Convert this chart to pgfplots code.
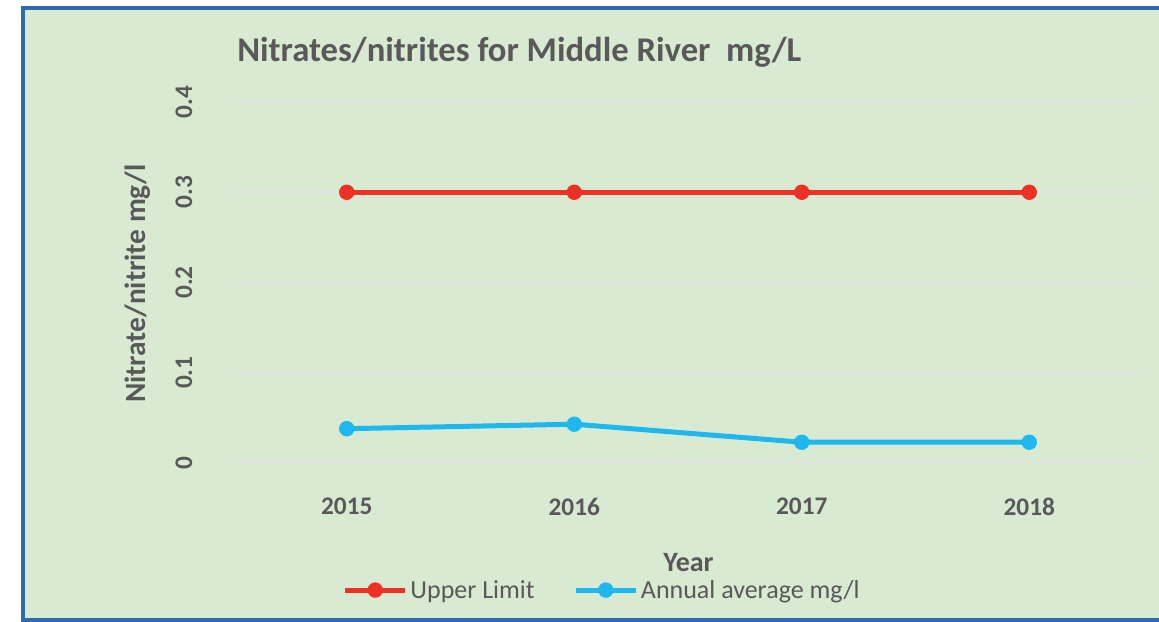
\documentclass[border=0pt]{standalone}
\usepackage{pgfplots}
\pgfplotsset{compat=1.18}
\usepackage{fontspec}
\setmainfont{Carlito}
\definecolor{bg}{HTML}{D9EAD3}
\definecolor{frame}{HTML}{2E6BB5}
\definecolor{txt}{HTML}{595959}
\definecolor{red1}{HTML}{EE3124}
\definecolor{blue1}{HTML}{1EB8EE}
\definecolor{grid1}{HTML}{E2E5DF}
\begin{document}
\begin{tikzpicture}
\useasboundingbox (0,0) rectangle (869.25pt,465.75pt);
\fill[white] (0,0) rectangle (869.25pt,465.75pt);
\fill[bg] (17.25pt,0.75pt) rectangle (869.25pt,459.75pt);
\draw[frame, line width=3pt] (870pt,459.75pt) -- (17.25pt,459.75pt) -- (17.25pt,0.75pt) -- (870pt,0.75pt);
\begin{axis}[
  at={(174.75pt,118.5pt)}, anchor=south west,
  scale only axis, width=682.5pt, height=270.75pt,
  xmin=-0.5, xmax=3.5, ymin=0, ymax=0.4,
  axis line style={draw=none},
  tick style={draw=none},
  xtick={0,1,2,3}, xticklabels={2015,2016,2017,2018},
  ytick={0,0.1,0.2,0.3,0.4}, yticklabels={0,0.1,0.2,0.3,0.4},
  ymajorgrids, grid style={grid1, line width=1.5pt},
  ticklabel style={text=txt, font=\bfseries\fontsize{19}{23}\selectfont},
  yticklabel style={rotate=90, anchor=south},
  yticklabel shift=27pt,
  xticklabel shift=23pt,
  clip=false,
  legend style={at={(axis description cs:0.406,-0.352)}, anchor=center, draw=none, fill=none,
    text=txt, font=\fontsize{19.5}{23}\selectfont,
    /tikz/every even column/.append style={column sep=27pt}},
  legend columns=2,
  legend image code/.code={\draw[mark repeat=2,mark phase=2] plot coordinates {(0pt,0pt)(22.5pt,0pt)(45pt,0pt)};},
]
\addplot[red1, line width=3.75pt, mark=*, mark size=5.5pt, mark options={line width=0.5pt}] coordinates {(0,0.3)(1,0.3)(2,0.3)(3,0.3)};
\addlegendentry{Upper Limit}
\addplot[blue1, line width=3.75pt, mark=*, mark size=5.5pt, mark options={line width=0.5pt}] coordinates {(0,0.038)(1,0.043)(2,0.023)(3,0.023)};
\addlegendentry{Annual average mg/l}
\end{axis}
\node[anchor=base west, inner sep=0, text=txt, font=\bfseries\fontsize{26}{30}\selectfont] at (177.75pt,419.25pt) {Nitrates/nitrites for Middle River\ \ mg/L};
\node[rotate=90, text=txt, font=\bfseries\fontsize{22}{26}\selectfont] at (103.5pt,253pt) {Nitrate/nitrite mg/l};
\node[anchor=base, inner sep=0, text=txt, font=\bfseries\fontsize{21}{25}\selectfont] at (516.4pt,37.5pt) {Year};
\end{tikzpicture}
\end{document}
